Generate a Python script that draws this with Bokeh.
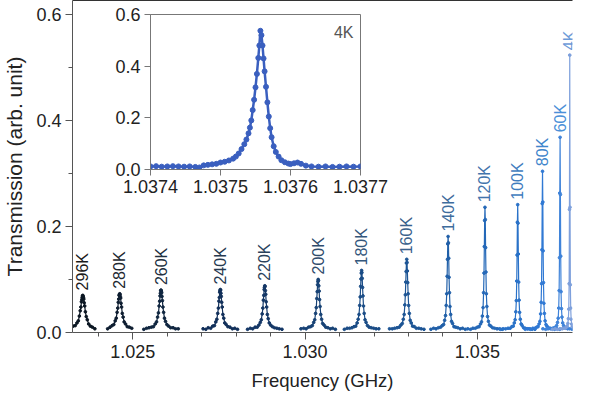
import numpy as np
from bokeh.plotting import figure
from bokeh.models import FixedTicker, LinearAxis, Range1d, Label, ColumnDataSource
from bokeh.layouts import column
from bokeh.embed import file_html
from bokeh.resources import INLINE
from bokeh.core.properties import value

nan = float("nan")
FONT = "Liberation Sans"

# ---------------- data ----------------
temps = ["296K", "280K", "260K", "240K", "220K", "200K", "180K",
         "160K", "140K", "120K", "100K", "80K", "60K", "4K"]
centers_ghz = [1.02355, 1.02462, 1.02582, 1.02754, 1.02883, 1.03038, 1.03164,
               1.03295, 1.03415, 1.03522, 1.03617, 1.03689, 1.03740, 1.03768]
# sweep sample offsets from each resonance (kHz)
offsets_khz = [-500, -420, -350, -280, -220, -170, -130, -100, -75, -55, -40, -28, -18, -9, 0,
               9, 18, 28, 40, 55, 75, 100, 130, 170, 220, 280, 350, 420, 500]

t296 = [nan, nan, 0.008, 0.012, 0.013, 0.018, 0.022, 0.031, 0.041, 0.048, 0.058, 0.062, 0.066, 0.069, 0.070,
        0.068, 0.066, 0.063, 0.056, 0.050, 0.039, 0.030, 0.024, 0.016, 0.012, 0.010, 0.007, nan, nan]
t280 = [nan, nan, 0.007, 0.010, 0.013, 0.015, 0.022, 0.027, 0.038, 0.046, 0.057, 0.063, 0.070, 0.071, 0.073,
        0.072, 0.068, 0.065, 0.055, 0.048, 0.036, 0.029, 0.020, 0.016, 0.011, 0.010, 0.008, nan, nan]
t260 = [0.006, 0.008, 0.009, 0.010, 0.011, 0.016, 0.020, 0.029, 0.037, 0.050, 0.059, 0.069, 0.074, 0.079, 0.080,
        0.078, 0.075, 0.068, 0.060, 0.048, 0.038, 0.027, 0.021, 0.015, 0.012, 0.009, 0.009, 0.007, 0.007]
t240 = [0.007, 0.006, 0.009, 0.008, 0.012, 0.013, 0.020, 0.025, 0.036, 0.046, 0.059, 0.066, 0.076, 0.079, 0.081,
        0.080, 0.074, 0.068, 0.057, 0.048, 0.034, 0.027, 0.018, 0.015, 0.011, 0.010, 0.007, 0.008, 0.006]
t220 = [0.006, 0.008, 0.007, 0.010, 0.010, 0.014, 0.019, 0.024, 0.035, 0.046, 0.061, 0.070, 0.081, 0.085, 0.088,
        0.087, 0.079, 0.072, 0.058, 0.048, 0.034, 0.026, 0.018, 0.014, 0.011, 0.009, 0.008, 0.007, 0.006]
t200 = [0.007, 0.008, 0.007, 0.010, 0.011, 0.013, 0.019, 0.024, 0.036, 0.047, 0.064, 0.077, 0.090, 0.096, 0.100,
        0.098, 0.088, 0.078, 0.062, 0.049, 0.034, 0.025, 0.017, 0.014, 0.010, 0.009, 0.007, 0.008, 0.006]
t180 = [0.006, 0.008, 0.008, 0.009, 0.011, 0.012, 0.018, 0.025, 0.034, 0.051, 0.067, 0.087, 0.101, 0.112, 0.117,
        0.113, 0.102, 0.085, 0.069, 0.050, 0.036, 0.024, 0.019, 0.013, 0.010, 0.009, 0.008, 0.007, 0.007]
t160 = [0.007, 0.007, 0.008, 0.009, 0.010, 0.014, 0.017, 0.025, 0.034, 0.052, 0.071, 0.095, 0.115, 0.131, 0.138,
        0.132, 0.116, 0.094, 0.073, 0.051, 0.036, 0.023, 0.018, 0.012, 0.011, 0.008, 0.008, 0.007, 0.006]
t140 = [0.006, 0.008, 0.007, 0.009, 0.010, 0.013, 0.015, 0.023, 0.032, 0.051, 0.073, 0.106, 0.138, 0.167, 0.181,
        0.169, 0.140, 0.104, 0.075, 0.049, 0.034, 0.021, 0.017, 0.011, 0.010, 0.009, 0.007, 0.008, 0.006]
t120 = [0.007, 0.006, 0.008, 0.008, 0.010, 0.011, 0.016, 0.020, 0.031, 0.047, 0.075, 0.112, 0.162, 0.211, 0.236,
        0.213, 0.160, 0.114, 0.073, 0.049, 0.030, 0.021, 0.014, 0.012, 0.009, 0.008, 0.007, 0.007, 0.006]
t100 = [0.006, 0.007, 0.007, 0.008, 0.008, 0.011, 0.012, 0.018, 0.024, 0.039, 0.060, 0.097, 0.146, 0.208, 0.241,
        0.206, 0.148, 0.095, 0.061, 0.038, 0.025, 0.016, 0.013, 0.009, 0.008, 0.007, 0.007, 0.006, 0.006]
t80 = [0.006, 0.007, 0.006, 0.008, 0.008, 0.010, 0.011, 0.016, 0.021, 0.035, 0.057, 0.092, 0.156, 0.243, 0.304,
       0.246, 0.154, 0.094, 0.055, 0.036, 0.022, 0.015, 0.012, 0.009, 0.008, 0.007, 0.006, 0.007, 0.006]
t60 = [0.007, 0.006, 0.007, 0.007, 0.008, 0.009, 0.010, 0.013, 0.019, 0.027, 0.046, 0.079, 0.141, 0.263, 0.368,
       0.260, 0.144, 0.077, 0.045, 0.029, 0.018, 0.013, 0.010, 0.008, 0.007, 0.007, 0.006, 0.006, 0.006]
t4 = [0.006, 0.007, 0.006, 0.007, 0.007, 0.008, 0.008, 0.010, 0.012, 0.017, 0.026, 0.044, 0.092, 0.232, 0.523,
      0.236, 0.090, 0.046, 0.025, 0.016, 0.012, 0.009, 0.008, 0.007, 0.006, 0.007, 0.006, 0.006, 0.006]
peaks = [t296, t280, t260, t240, t220, t200, t180, t160, t140, t120, t100, t80, t60, t4]

peak_colors = ["#0b1622", "#0e1d30", "#102640", "#12305a", "#143766", "#174275", "#1a4c86",
               "#1d5595", "#205fa8", "#2468b8", "#2a72c8", "#3079d4", "#3f83d9", "#7ea0dc"]
label_colors = ["#1a1a1a", "#20262e", "#22303f", "#26394f", "#2a425c", "#2f4c6c", "#34577c",
                "#3a628c", "#3e6c9c", "#4274ac", "#3f7cbe", "#3f86cc", "#4b90d8", "#6d9bd8"]

y_ticks = [0.0, 0.2, 0.4, 0.6]
y_tick_labels = ["0.0", "0.2", "0.4", "0.6"]
y_minor = [0.1, 0.3, 0.5]
x_ticks = [1.025, 1.030, 1.035]
x_tick_labels = ["1.025", "1.030", "1.035"]
x_minor = [1.024, 1.026, 1.027, 1.028, 1.029, 1.031, 1.032, 1.033, 1.034, 1.036, 1.037]

# inset: 4K resonance, offsets from 1.0374 GHz in kHz
inset_khz = [0, 8, 16, 24, 32, 40, 48, 56, 64, 70, 76, 82, 88, 94, 100, 106, 112, 118, 122, 126,
             130, 134, 137, 140, 142, 144, 146, 148, 150, 152, 154, 155.5, 157, 158.5, 160, 161.5,
             163, 165, 167, 169, 171, 173, 176, 179, 183, 187, 192, 197, 200, 205, 210, 215, 222,
             230, 240, 250, 260, 270, 280, 290, 300]
inset_vals = [0.012, 0.013, 0.011, 0.012, 0.013, 0.012, 0.011, 0.012, 0.010, 0.008, 0.016, 0.018,
              0.020, 0.022, 0.027, 0.030, 0.035, 0.042, 0.050, 0.062, 0.079, 0.098, 0.116, 0.140,
              0.162, 0.190, 0.230, 0.270, 0.318, 0.370, 0.432, 0.480, 0.537, 0.520, 0.480, 0.430,
              0.380, 0.320, 0.260, 0.205, 0.160, 0.125, 0.090, 0.068, 0.050, 0.036, 0.028, 0.023,
              0.021, 0.024, 0.027, 0.022, 0.015, 0.012, 0.011, 0.012, 0.010, 0.011, 0.012, 0.011, 0.012]
inset_start_ghz = 1.0374
inset_x_ticks = [1.0374, 1.0375, 1.0376, 1.0377]
inset_x_labels = ["1.0374", "1.0375", "1.0376", "1.0377"]
inset_y_ticks = [0.0, 0.2, 0.4, 0.6]
inset_y_labels = ["0.0", "0.2", "0.4", "0.6"]
inset_color = "#3a5fbf"

for pk in peaks:
    assert len(pk) == len(offsets_khz)
assert len(inset_khz) == len(inset_vals)

# ---------------- main figure ----------------
p = figure(width=602, height=400, output_backend="svg", toolbar_location=None,
           x_range=Range1d(1.023251, 1.037760), y_range=Range1d(0.0, 0.626),
           min_border_left=71, min_border_right=0, min_border_top=0, min_border_bottom=68,
           background_fill_color="white", border_fill_color="white")
p.outline_line_color = None
p.grid.visible = False

for ax in (p.xaxis[0], p.yaxis[0]):
    ax.axis_line_color = "#555555"
    ax.major_tick_line_color = "#555555"
    ax.minor_tick_line_color = "#555555"
    ax.major_tick_in = 0
    ax.minor_tick_in = 0
    ax.major_tick_out = 7
    ax.minor_tick_out = 4
    ax.major_label_text_font = FONT
    ax.major_label_text_font_size = "18px"
    ax.major_label_text_color = "#222222"
    ax.axis_label_text_font = FONT
    ax.axis_label_text_font_style = "normal"
    ax.axis_label_text_color = "#222222"

p.xaxis[0].ticker = FixedTicker(ticks=x_ticks, minor_ticks=x_minor)
p.xaxis[0].major_label_overrides = dict(zip(x_ticks, x_tick_labels))
p.xaxis[0].major_label_standoff = 5
p.xaxis[0].axis_label = "Frequency (GHz)"
p.xaxis[0].axis_label_text_font_size = "18.5px"
p.xaxis[0].axis_label_standoff = 9

p.yaxis[0].ticker = FixedTicker(ticks=y_ticks, minor_ticks=y_minor)
p.yaxis[0].major_label_overrides = dict(zip(y_ticks, y_tick_labels))
p.yaxis[0].major_label_standoff = 4
p.yaxis[0].axis_label = "Transmission (arb. unit)"
p.yaxis[0].axis_label_text_font_size = "21px"
p.yaxis[0].axis_label_standoff = 7

top_ax = LinearAxis(ticker=FixedTicker(ticks=[]), major_label_text_font_size="0px",
                    major_tick_line_color=None, minor_tick_line_color=None,
                    axis_line_color="#333333", major_label_standoff=0)
p.add_layout(top_ax, "above")

offs = np.array(offsets_khz) * 1e-6
tops = []
for c, vals, col in zip(centers_ghz, peaks, peak_colors):
    f = c + offs
    v = np.array(vals)
    p.line(f, v, line_color=col, line_width=1.2)
    p.scatter(f, v, size=2.7, fill_color=col, line_color=col)
    tops.append(np.nanmax(v))

lab_src = ColumnDataSource(dict(x=centers_ghz, y=tops, text=temps, color=label_colors))
p.text(x="x", y="y", text="text", source=lab_src, angle=np.pi / 2, text_align="left",
       text_baseline="middle", y_offset=-5, text_color="color",
       text_font=value(FONT), text_font_size="16px")

# ---------------- inset figure ----------------
inset = figure(width=312, height=203, output_backend="svg", toolbar_location=None,
               x_range=Range1d(inset_x_ticks[0], inset_x_ticks[-1]),
               y_range=Range1d(inset_y_ticks[0], inset_y_ticks[-1]),
               min_border_left=45, min_border_right=30, min_border_top=12, min_border_bottom=36,
               background_fill_color="white", border_fill_color=None,
               styles={"position": "absolute", "left": "78px", "top": "2px"})
inset.outline_line_color = "#777777"
inset.grid.visible = False
for ax in (inset.xaxis[0], inset.yaxis[0]):
    ax.axis_line_color = "#777777"
    ax.major_tick_line_color = "#777777"
    ax.minor_tick_line_color = None
    ax.major_tick_in = 0
    ax.major_tick_out = 6
    ax.major_label_text_font = FONT
    ax.major_label_text_font_size = "18px"
    ax.major_label_text_color = "#222222"
    ax.major_label_standoff = 4
inset.xaxis[0].ticker = FixedTicker(ticks=inset_x_ticks)
inset.xaxis[0].major_label_overrides = dict(zip(inset_x_ticks, inset_x_labels))
inset.yaxis[0].ticker = FixedTicker(ticks=inset_y_ticks)
inset.yaxis[0].major_label_overrides = dict(zip(inset_y_ticks, inset_y_labels))

fi = inset_start_ghz + np.array(inset_khz) * 1e-6
inset.line(fi, inset_vals, line_color=inset_color, line_width=2.5)
inset.scatter(fi, inset_vals, size=5, fill_color=inset_color, line_color=inset_color)
inset.add_layout(Label(x=1.03769, y=0.53, text="4K", text_align="right", text_baseline="middle",
                       text_font=FONT, text_font_size="16px", text_color="#555555"))

layout = column(p, inset)
open("out.html", "w").write(file_html(layout, INLINE))
